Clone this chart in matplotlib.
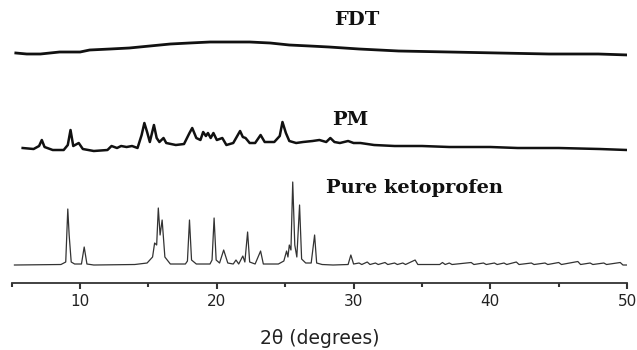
import matplotlib
matplotlib.use('Agg')
import matplotlib.pyplot as plt
from matplotlib.ticker import MultipleLocator

# FDT trace (2theta in degrees, offset intensity)
fdt_2theta = [5.3, 6.1, 7.1, 8.5, 10.0, 10.7, 12.2, 13.6, 15.1, 16.6, 18.0, 19.5,
              21.0, 22.4, 23.9, 25.3, 26.8, 28.2, 30.4, 33.3, 37.0, 40.6, 44.3, 47.9, 50.1]
fdt_counts = [230, 229, 229, 231, 231, 233, 234, 235, 237, 239, 240, 241,
              241, 241, 240, 238, 237, 236, 234, 232, 231, 230, 229, 229, 228]

# physical mixture trace
pm_2theta = [5.8, 6.6, 7.0, 7.2, 7.4, 8.0, 8.8, 9.1, 9.3, 9.5, 9.9, 10.2, 11.0, 12.0,
             12.3, 12.7, 13.0, 13.4, 13.8, 14.2, 14.5, 14.7, 14.9, 15.1, 15.4, 15.6,
             15.8, 16.1, 16.3, 17.0, 17.6, 18.0, 18.2, 18.5, 18.8, 19.0, 19.2, 19.35,
             19.55, 19.75, 20.0, 20.4, 20.7, 21.2, 21.7, 21.9, 22.1, 22.4, 22.8, 23.2,
             23.5, 24.2, 24.6, 24.8, 25.05, 25.3, 25.8, 26.3, 27.0, 27.5, 28.0, 28.3,
             28.6, 29.0, 29.6, 30.0, 30.5, 31.5, 33.0, 35.0, 37.0, 40.0, 42.0, 45.0, 48.0, 50.0]
pm_counts = [135, 134, 137, 143, 136, 133, 133, 138, 153, 137, 140, 134, 132, 133,
             137, 135, 137, 136, 137, 135, 148, 160, 151, 141, 158, 145,
             141, 145, 140, 138, 139, 150, 155, 145, 143, 151, 147, 150,
             145, 150, 143, 145, 138, 140, 152, 146, 145, 140, 140, 148,
             141, 141, 147, 161, 150, 142, 140, 141, 142, 143, 141, 145,
             141, 140, 142, 140, 140, 138, 137, 137, 136, 136, 135, 135, 134, 133]

# pure ketoprofen trace (height above its baseline)
keto_base = 18
keto_2theta = [5.2, 8.6, 8.95, 9.1, 9.2, 9.35, 9.6, 10.1, 10.3, 10.5, 11.0, 14.0, 14.9,
               15.3, 15.45, 15.6, 15.72, 15.85, 16.0, 16.2, 16.6, 17.7, 17.85, 18.0,
               18.15, 18.5, 19.5, 19.65, 19.8, 19.95, 20.2, 20.5, 20.8, 21.2, 21.4,
               21.6, 21.9, 22.05, 22.25, 22.4, 22.8, 23.2, 23.4, 24.5, 24.9, 25.1,
               25.2, 25.3, 25.42, 25.55, 25.7, 25.85, 26.05, 26.2, 26.5, 26.9, 27.15,
               27.3, 27.7, 28.5, 29.6, 29.8, 30.0, 30.4, 30.6, 31.0, 31.2, 31.6, 31.8,
               32.3, 32.5, 33.0, 33.2, 33.6, 33.8, 34.5, 34.7, 36.3, 36.5, 36.7, 37.0,
               37.2, 38.6, 38.8, 39.5, 39.7, 40.3, 40.5, 41.0, 41.2, 41.9, 42.1, 43.0,
               43.2, 44.0, 44.2, 45.0, 45.2, 46.4, 46.6, 47.3, 47.5, 48.3, 48.5, 49.5,
               49.7, 50.0]
keto_counts = [0, 0.5, 3, 56, 30, 3, 1, 1, 18, 1, 0, 0.5, 2,
               8, 22, 20, 57, 30, 45, 8, 1, 1, 4, 45,
               5, 1, 1, 5, 47, 5, 2, 15, 2, 1, 5,
               1, 9, 3, 33, 3, 1, 14, 1, 1, 4, 14,
               8, 20, 15, 83, 20, 8, 60, 6, 2, 2, 30,
               2, 0.5, 0, 0.5, 10, 1, 2, 0.5, 3, 0.5, 2, 0.5,
               2.5, 0.5, 2, 0.5, 2, 0.5, 5, 0.5, 0.5, 2.5, 0.5, 2,
               0.5, 2.5, 0.5, 2, 0.5, 2, 0.5, 2, 0.5, 3, 0.5, 2,
               0.5, 2, 0.5, 2.5, 0.5, 3.5, 0.5, 2, 0.5, 2, 0.5, 2.5,
               0, 0]

labels = ['FDT', 'PM', 'Pure ketoprofen']
label_x = [28.6, 28.45, 28.0]
label_y = [263, 163, 95]

fig = plt.figure(figsize=(6.37, 3.5), dpi=100)
ax = fig.add_axes([0.0184, 0.1914, 0.966, 0.8086])

ax.plot(fdt_2theta, fdt_counts, color='#111111', lw=2.0)
ax.plot(pm_2theta, pm_counts, color='#111111', lw=1.8)
ax.plot(keto_2theta, [keto_base + c for c in keto_counts], color='#333333', lw=0.9)

for t, x, y in zip(labels, label_x, label_y):
    ax.text(x, y, t, ha='left', va='center', fontsize=14, fontweight='bold',
            family='DejaVu Serif', color='#111111')

ax.set_xlim(5, 50)
ax.set_ylim(0, 283)
for s in ['top', 'left', 'right']:
    ax.spines[s].set_visible(False)
ax.spines['bottom'].set_color('#333333')
ax.spines['bottom'].set_linewidth(1.3)
ax.set_yticks([])
ax.xaxis.set_major_locator(MultipleLocator(10))
ax.xaxis.set_minor_locator(MultipleLocator(5))
ax.tick_params(axis='x', which='major', length=4, width=1.5, color='#333333',
               labelsize=11, labelcolor='#222222', pad=4)
ax.tick_params(axis='x', which='minor', length=3, width=1.5, color='#333333')
ax.set_xlabel('2θ (degrees)', fontsize=13.5, color='#222222', labelpad=14)

fig.savefig('out.png', dpi=100)
